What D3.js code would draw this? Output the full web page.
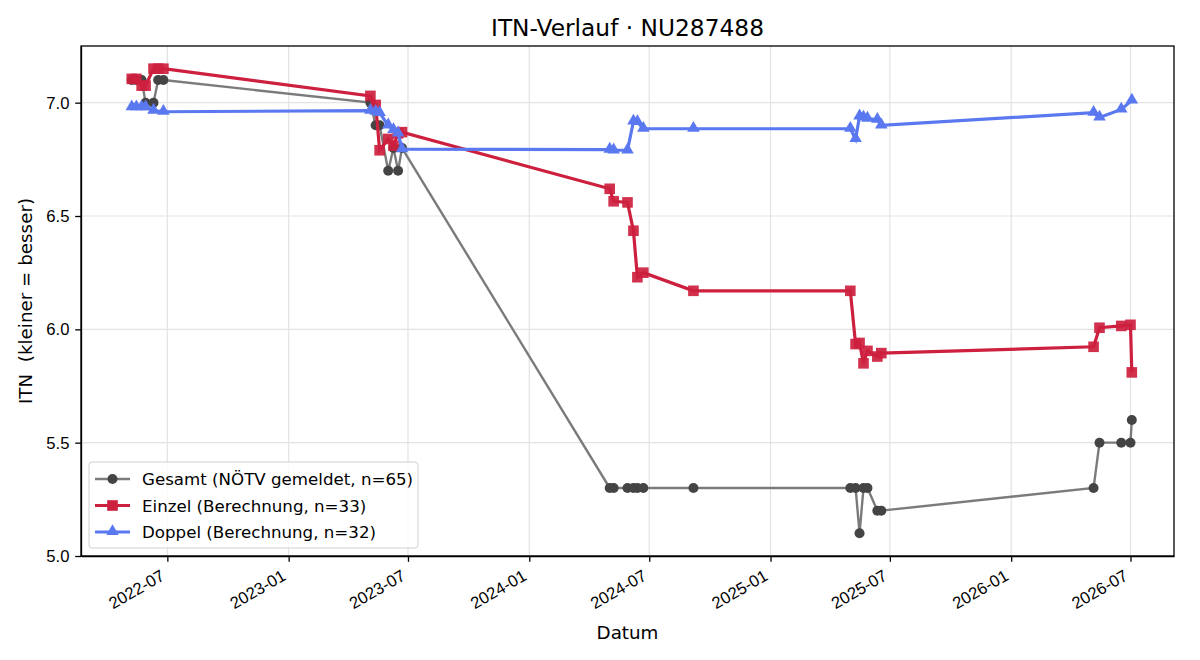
<!DOCTYPE html>
<meta charset="utf-8">
<style type="text/css">
body { margin: 0; background: #fff; }
svg { font-family: "DejaVu Sans", sans-serif; }
.axis text { font-size: 16.67px; fill: #000; }
.axis path, .axis line { stroke: #000; stroke-width: 1.3; }
.grid line { stroke: #e3e3e3; stroke-width: 1.2; }
.gesamt { fill: none; stroke: #7b7b7b; stroke-width: 2.4; }
.einzel { fill: none; stroke: #cd1f3e; stroke-width: 3.2; }
.doppel { fill: none; stroke: #5a78ef; stroke-width: 3.2; }
</style>
<body>
</body>
<script src="https://d3js.org/d3.v7.min.js"></script>
<script>
// data
var gesamtDates = ["2022-05-08","2022-05-15","2022-05-23","2022-05-29","2022-06-10","2022-06-17","2022-06-25",
  "2023-05-05","2023-05-13","2023-05-19","2023-06-01","2023-06-09","2023-06-16","2023-06-22",
  "2024-05-02","2024-05-08","2024-05-29","2024-06-07","2024-06-13","2024-06-22","2024-09-06",
  "2025-05-02","2025-05-10","2025-05-16","2025-05-22","2025-05-28","2025-06-12","2025-06-18",
  "2026-05-06","2026-05-15","2026-06-17","2026-07-01","2026-07-03"];
var gesamtValues = [7.1,7.1,7.1,7.0,7.0,7.1,7.1,
  7.0,6.9,6.9,6.7,6.8,6.7,6.8,
  5.3,5.3,5.3,5.3,5.3,5.3,5.3,
  5.3,5.3,5.1,5.3,5.3,5.2,5.2,
  5.3,5.5,5.5,5.5,5.6];

var einzelDates = ["2022-05-08","2022-05-15","2022-05-23","2022-05-29","2022-06-10","2022-06-17","2022-06-25",
  "2023-05-05","2023-05-13","2023-05-19","2023-06-01","2023-06-09","2023-06-16","2023-06-22",
  "2024-05-02","2024-05-08","2024-05-29","2024-06-07","2024-06-13","2024-06-22","2024-09-06",
  "2025-05-02","2025-05-10","2025-05-16","2025-05-22","2025-05-28","2025-06-12","2025-06-18",
  "2026-05-06","2026-05-15","2026-06-17","2026-07-01","2026-07-03"];
var einzelValues = [7.105,7.105,7.075,7.075,7.15,7.15,7.15,
  7.03,6.99,6.79,6.84,6.81,6.865,6.87,
  6.62,6.565,6.56,6.435,6.23,6.25,6.17,
  6.17,5.935,5.94,5.85,5.905,5.88,5.895,
  5.923,6.007,6.015,6.02,5.81];

var doppelDates = ["2022-05-08","2022-05-15","2022-05-23","2022-05-29","2022-06-10","2022-06-25",
  "2023-05-05","2023-05-13","2023-05-19","2023-06-01","2023-06-09","2023-06-16","2023-06-22",
  "2024-05-02","2024-05-08","2024-05-29","2024-06-07","2024-06-13","2024-06-22","2024-09-06",
  "2025-05-02","2025-05-10","2025-05-16","2025-05-22","2025-05-28","2025-06-12","2025-06-18",
  "2026-05-06","2026-05-15","2026-06-17","2026-07-03"];
var doppelValues = [6.98,6.98,6.98,6.98,6.965,6.96,
  6.965,6.96,6.955,6.9,6.88,6.865,6.795,
  6.793,6.79,6.79,6.917,6.915,6.885,6.885,
  6.885,6.84,6.94,6.935,6.93,6.925,6.9,
  6.956,6.935,6.97,7.01];

var yTicks = [5.0, 5.5, 6.0, 6.5, 7.0];
var xTicks = ["2022-07-01","2023-01-01","2023-07-01","2024-01-01","2024-07-01","2025-01-01","2025-07-01","2026-01-01","2026-07-01"];
var legendLabels = ["Gesamt (NÖTV gemeldet, n=65)", "Einzel (Berechnung, n=33)", "Doppel (Berechnung, n=32)"];

var parse = d3.timeParse("%Y-%m-%d");
function zip(dates, values) {
  return dates.map(function(d, i) { return { date: parse(d), value: values[i] }; });
}
var gesamt = zip(gesamtDates, gesamtValues);
var einzel = zip(einzelDates, einzelValues);
var doppel = zip(doppelDates, doppelValues);

// 1. margins / size
var W = 1200, H = 660;
var margin = { top: 46, right: 26, bottom: 104, left: 81 };
var width = W - margin.left - margin.right,
    height = H - margin.top - margin.bottom;

var svg = d3.select("body").append("svg")
    .attr("width", W)
    .attr("height", H);

var g = svg.append("g")
    .attr("transform", "translate(" + margin.left + "," + margin.top + ")");

// 2. scales
var xScale = d3.scaleTime()
    .domain([parse("2022-02-20"), parse("2026-09-05")])
    .range([0, width]);

var yScale = d3.scaleLinear()
    .domain([5.0, 7.25])
    .range([height, 0]);

// 3. grid
g.append("g").attr("class", "grid")
  .selectAll("line").data(xTicks).enter().append("line")
    .attr("x1", function(d) { return xScale(parse(d)); })
    .attr("x2", function(d) { return xScale(parse(d)); })
    .attr("y1", 0).attr("y2", height);

g.append("g").attr("class", "grid")
  .selectAll("line").data(yTicks).enter().append("line")
    .attr("x1", 0).attr("x2", width)
    .attr("y1", function(d) { return yScale(d); })
    .attr("y2", function(d) { return yScale(d); });

// 4. lines
var line = d3.line()
    .x(function(d) { return xScale(d.date); })
    .y(function(d) { return yScale(d.value); });

g.append("path").datum(gesamt).attr("class", "gesamt").attr("d", line);
g.selectAll(".dotG").data(gesamt).enter().append("circle")
    .attr("class", "dotG")
    .attr("cx", function(d) { return xScale(d.date); })
    .attr("cy", function(d) { return yScale(d.value); })
    .attr("r", 5)
    .attr("fill", "#444");

g.append("path").datum(einzel).attr("class", "einzel").attr("d", line);
g.selectAll(".sq").data(einzel).enter().append("rect")
    .attr("class", "sq")
    .attr("x", function(d) { return xScale(d.date) - 5.3; })
    .attr("y", function(d) { return yScale(d.value) - 5.3; })
    .attr("width", 10.6).attr("height", 10.6)
    .attr("fill", "#cd1f3e").attr("fill-opacity", 0.92);

g.append("path").datum(doppel).attr("class", "doppel").attr("d", line);
var tri = d3.symbol().type(d3.symbolTriangle).size(68);
g.selectAll(".tri").data(doppel).enter().append("path")
    .attr("class", "tri")
    .attr("d", tri)
    .attr("transform", function(d) { return "translate(" + xScale(d.date) + "," + (yScale(d.value) - 0.5) + ")"; })
    .attr("fill", "#5a78ef");

// 5. axes
var xAxis = g.append("g")
    .attr("class", "axis")
    .attr("transform", "translate(0," + height + ")")
    .call(d3.axisBottom(xScale)
      .tickValues(xTicks.map(parse))
      .tickFormat(d3.timeFormat("%Y-%m"))
      .tickSizeInner(5.8).tickSizeOuter(0));

xAxis.selectAll("text")
    .attr("text-anchor", "end")
    .attr("dy", null)
    .attr("y", null)
    .attr("transform", "translate(-2,23) rotate(-30)");

g.append("g")
    .attr("class", "axis")
    .call(d3.axisLeft(yScale)
      .tickValues(yTicks)
      .tickFormat(d3.format(".1f"))
      .tickSizeInner(5.8).tickPadding(5.8).tickSizeOuter(0));

// frame
g.append("rect")
    .attr("width", width).attr("height", height)
    .attr("fill", "none").attr("stroke", "#000").attr("stroke-width", 1.3);

// 6. labels
svg.append("text")
    .attr("x", margin.left + width / 2).attr("y", 36)
    .attr("text-anchor", "middle")
    .style("font-size", "23.3px")
    .text("ITN-Verlauf · NU287488");

svg.append("text")
    .attr("x", margin.left + width / 2).attr("y", 639)
    .attr("text-anchor", "middle")
    .style("font-size", "18.3px")
    .text("Datum");

svg.append("text")
    .attr("transform", "translate(32," + (margin.top + height / 2) + ") rotate(-90)")
    .attr("text-anchor", "middle")
    .style("font-size", "18.3px")
    .style("white-space", "pre")
    .text("ITN  (kleiner = besser)");

// 7. legend
var legend = g.append("g").attr("transform", "translate(8," + (height - 94) + ")");
legend.append("rect")
    .attr("width", 329).attr("height", 86)
    .attr("rx", 3)
    .attr("fill", "#fff").attr("fill-opacity", 0.8)
    .attr("stroke", "#d0d0d0");

var legendStyle = [
  { cls: "gesamt", color: "#444", shape: "circle" },
  { cls: "einzel", color: "#cd1f3e", shape: "square" },
  { cls: "doppel", color: "#5a78ef", shape: "triangle" }
];
legendStyle.forEach(function(s, i) {
  var row = legend.append("g").attr("transform", "translate(0," + (17 + i * 26.5) + ")");
  row.append("line").attr("class", s.cls).attr("x1", 6).attr("x2", 41).attr("y1", 0).attr("y2", 0);
  if (s.shape === "circle") {
    row.append("circle").attr("cx", 23.5).attr("cy", 0).attr("r", 5).attr("fill", s.color);
  } else if (s.shape === "square") {
    row.append("rect").attr("x", 18.2).attr("y", -5.3).attr("width", 10.6).attr("height", 10.6).attr("fill", s.color);
  } else {
    row.append("path").attr("d", tri).attr("transform", "translate(23.5,-0.5)").attr("fill", s.color);
  }
  row.append("text").attr("x", 53).attr("y", 6)
    .style("font-size", "16.67px")
    .text(legendLabels[i]);
});
</script>
